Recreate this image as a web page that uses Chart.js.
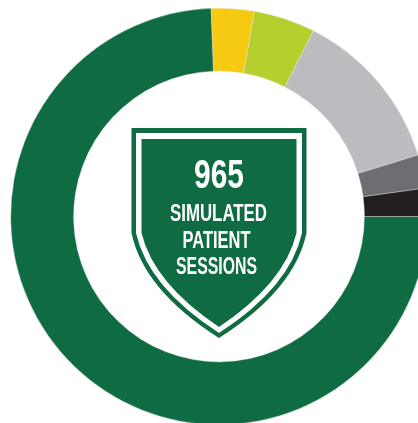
<!DOCTYPE html>
<html>
<head>
<meta charset="utf-8">
<script src="https://cdn.jsdelivr.net/npm/chart.js@4"></script>
<style>
html,body{margin:0;padding:0;background:#fff;width:418px;height:423px;overflow:hidden}
#wrap{position:absolute;left:0;top:0;width:418px;height:423px;overflow:hidden}
canvas{display:block}
</style>
</head>
<body>
<div id="wrap"><canvas id="c" width="438" height="433"></canvas></div>
<script>
const categories = ["Main", "Yellow", "Lime", "Light gray", "Dark gray", "Black"];
const sessions = [718, 32, 46, 123, 25, 21];
const sliceColors = ["#0e6b42", "#f6ca12", "#b7cf2d", "#bbbcc0", "#6d6e72", "#231f20"];
const headline = "965";
const captionLines = ["SIMULATED", "PATIENT", "SESSIONS"];

function shieldPath(ctx, l, r, top, straightY, ctrlDx, ctrlY, tip) {
  const mid = 219;
  ctx.beginPath();
  ctx.moveTo(l, top);
  ctx.lineTo(r, top);
  ctx.lineTo(r, straightY);
  ctx.quadraticCurveTo(r - ctrlDx, ctrlY, mid, tip);
  ctx.quadraticCurveTo(l + ctrlDx, ctrlY, l, straightY);
  ctx.closePath();
}
function fitText(ctx, text, cx, base, width, font) {
  ctx.save();
  ctx.font = font;
  const w = ctx.measureText(text).width;
  ctx.translate(cx, base);
  ctx.scale(width / w, 1);
  ctx.textAlign = "center";
  ctx.fillText(text, 0, 0);
  ctx.restore();
}
const shieldPlugin = {
  id: "shield",
  afterDraw(chart) {
    const ctx = chart.ctx;
    ctx.save();
    ctx.fillStyle = "#0e6b42";
    shieldPath(ctx, 131.5, 306.5, 128, 233, 12, 290, 338); ctx.fill();
    ctx.fillStyle = "#ffffff";
    shieldPath(ctx, 136, 302, 133, 233, 12, 287, 333); ctx.fill();
    ctx.fillStyle = "#0e6b42";
    shieldPath(ctx, 141.5, 296.5, 139, 233, 12, 283, 327); ctx.fill();
    ctx.fillStyle = "#ffffff";
    const face = '"Liberation Sans","DejaVu Sans",sans-serif';
    fitText(ctx, headline, 219, 188, 50, "bold 40px " + face);
    fitText(ctx, captionLines[0], 218.5, 221, 97, "bold 23px " + face);
    fitText(ctx, captionLines[1], 216.5, 248, 68, "bold 23px " + face);
    fitText(ctx, captionLines[2], 216.5, 274, 81, "bold 23px " + face);
    ctx.restore();
  }
};
new Chart(document.getElementById("c"), {
  type: "doughnut",
  data: {
    labels: categories,
    datasets: [{
      data: sessions,
      backgroundColor: sliceColors,
      borderColor: "#e8e8e0",
      borderWidth: 0.4,
      hoverOffset: 0
    }]
  },
  options: {
    responsive: false,
    animation: false,
    rotation: 90,
    cutout: "69.8%",
    layout: { padding: { top: 8, bottom: 8, left: 0, right: 0 } },
    plugins: { legend: { display: false }, tooltip: { enabled: false } }
  },
  plugins: [shieldPlugin]
});
</script>
</body>
</html>
